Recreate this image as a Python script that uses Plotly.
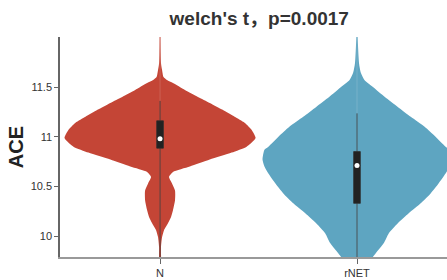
import plotly.graph_objects as go

# ---------------- data ----------------
categories = ["N", "rNET"]

# violin outlines: y levels and relative density (0-1)
n_y = [12.05, 11.74, 11.67, 11.60, 11.57, 11.54, 11.47, 11.40, 11.34, 11.27, 11.20,
       11.14, 11.07, 10.99, 10.97, 10.90, 10.84, 10.77, 10.70, 10.645, 10.595,
       10.53, 10.46, 10.36, 10.26, 10.19, 10.13, 10.06, 9.99, 9.89, 9.75]
n_density = [0.005, 0.010, 0.021, 0.036, 0.072, 0.134, 0.258, 0.392, 0.515, 0.649, 0.773,
             0.876, 0.948, 0.990, 0.979, 0.897, 0.742, 0.515, 0.309, 0.134, 0.093,
             0.124, 0.155, 0.155, 0.134, 0.113, 0.082, 0.041, 0.021, 0.010, 0.007]

rnet_y = [12.05, 11.74, 11.64, 11.57, 11.50, 11.40, 11.30, 11.20, 11.10, 11.00, 10.90,
          10.87, 10.77, 10.70, 10.63, 10.53, 10.43, 10.33, 10.23, 10.13, 10.03, 9.93,
          9.83, 9.79, 9.70]
rnet_density = [0.005, 0.021, 0.041, 0.077, 0.165, 0.289, 0.423, 0.557, 0.701, 0.814, 0.918,
                0.959, 0.979, 0.959, 0.918, 0.845, 0.763, 0.660, 0.536, 0.423, 0.330, 0.278,
                0.196, 0.165, 0.103]

# box statistics
q1 = [10.885, 10.33]
median = [10.98, 10.71]
q3 = [11.16, 10.85]
upper_fence = [11.36, 11.235]
lower_fence = [9.75, 9.75]

title_text = "welch's t，p=0.0017"
y_label = "ACE"
y_ticks = [10, 10.5, 11, 11.5]
y_ticktext = ["10", "10.5", "11", "11.5"]

# ---------------- figure ----------------
colors = ["#C44536", "#5EA5C1"]
max_half = 0.49
x_range = [-0.508, 1.457]
y_range = [9.79, 12.003]

fig = go.Figure()
outlines = [(n_y, n_density), (rnet_y, rnet_density)]
for i, (ys, dens) in enumerate(outlines):
    left = [i - d * max_half for d in dens]
    right = [i + d * max_half for d in dens]
    fig.add_trace(go.Scatter(
        x=left + right[::-1], y=ys + ys[::-1],
        fill="toself", fillcolor=colors[i], mode="lines",
        line=dict(width=0, color=colors[i], shape="spline", smoothing=0.6),
        hoverinfo="skip", showlegend=False))
    # faint centre line
    fig.add_trace(go.Scatter(
        x=[i, i], y=[max(ys), min(ys)], mode="lines",
        line=dict(width=1, color="rgba(255,255,255,0.15)"),
        hoverinfo="skip", showlegend=False))

# boxes on an overlaid axis pair so they render above the violin fills
for i in range(len(categories)):
    fig.add_trace(go.Box(
        x=[i], q1=[q1[i]], median=[median[i]], q3=[q3[i]],
        lowerfence=[lower_fence[i]], upperfence=[upper_fence[i]],
        orientation="v", boxpoints=False,
        width=0.034, fillcolor="#222222", whiskerwidth=0,
        line=dict(color="rgba(45,45,45,0.75)", width=1),
        xaxis="x2", yaxis="y2",
        hoverinfo="skip", showlegend=False))

fig.add_trace(go.Scatter(
    x=list(range(len(categories))), y=median, mode="markers",
    marker=dict(color="white", size=5, line=dict(width=0)),
    xaxis="x2", yaxis="y2",
    hoverinfo="skip", showlegend=False))

fig.update_layout(
    width=447, height=280,
    margin=dict(l=60, r=0, t=37, b=23, autoexpand=False),
    paper_bgcolor="white", plot_bgcolor="white",
    font=dict(family="Liberation Sans, Arial, Noto Sans CJK SC", color="#333333", size=11),
    title=dict(text="<b>" + title_text + "</b>", x=0.58, xanchor="center",
               y=0.936, yanchor="middle", yref="container",
               font=dict(size=19, color="#333333",
                         family="Liberation Sans, Arial, Noto Sans CJK SC")),
    xaxis=dict(range=x_range, tickvals=list(range(len(categories))),
               ticktext=categories, showgrid=False, zeroline=False,
               showline=True, linecolor="#999999", linewidth=2,
               ticks="outside", ticklen=5, tickcolor="#666666", tickwidth=1,
               tickfont=dict(size=11, color="#333333")),
    yaxis=dict(range=y_range, tickvals=y_ticks, ticktext=y_ticktext,
               showgrid=False, zeroline=False,
               showline=True, linecolor="#666666", linewidth=1.5,
               ticks="outside", ticklen=4, tickcolor="#666666", tickwidth=1,
               tickfont=dict(size=11, color="#333333"),
               title=dict(text="<b>" + y_label + "</b>", standoff=2,
                          font=dict(size=20, color="#222222"))),
    xaxis2=dict(range=x_range, overlaying="x", visible=False),
    yaxis2=dict(range=y_range, overlaying="y", visible=False),
)

fig.write_html("out.html", config={"displayModeBar": False},
               post_script="document.body.style.margin='0';document.body.style.padding='0';")
